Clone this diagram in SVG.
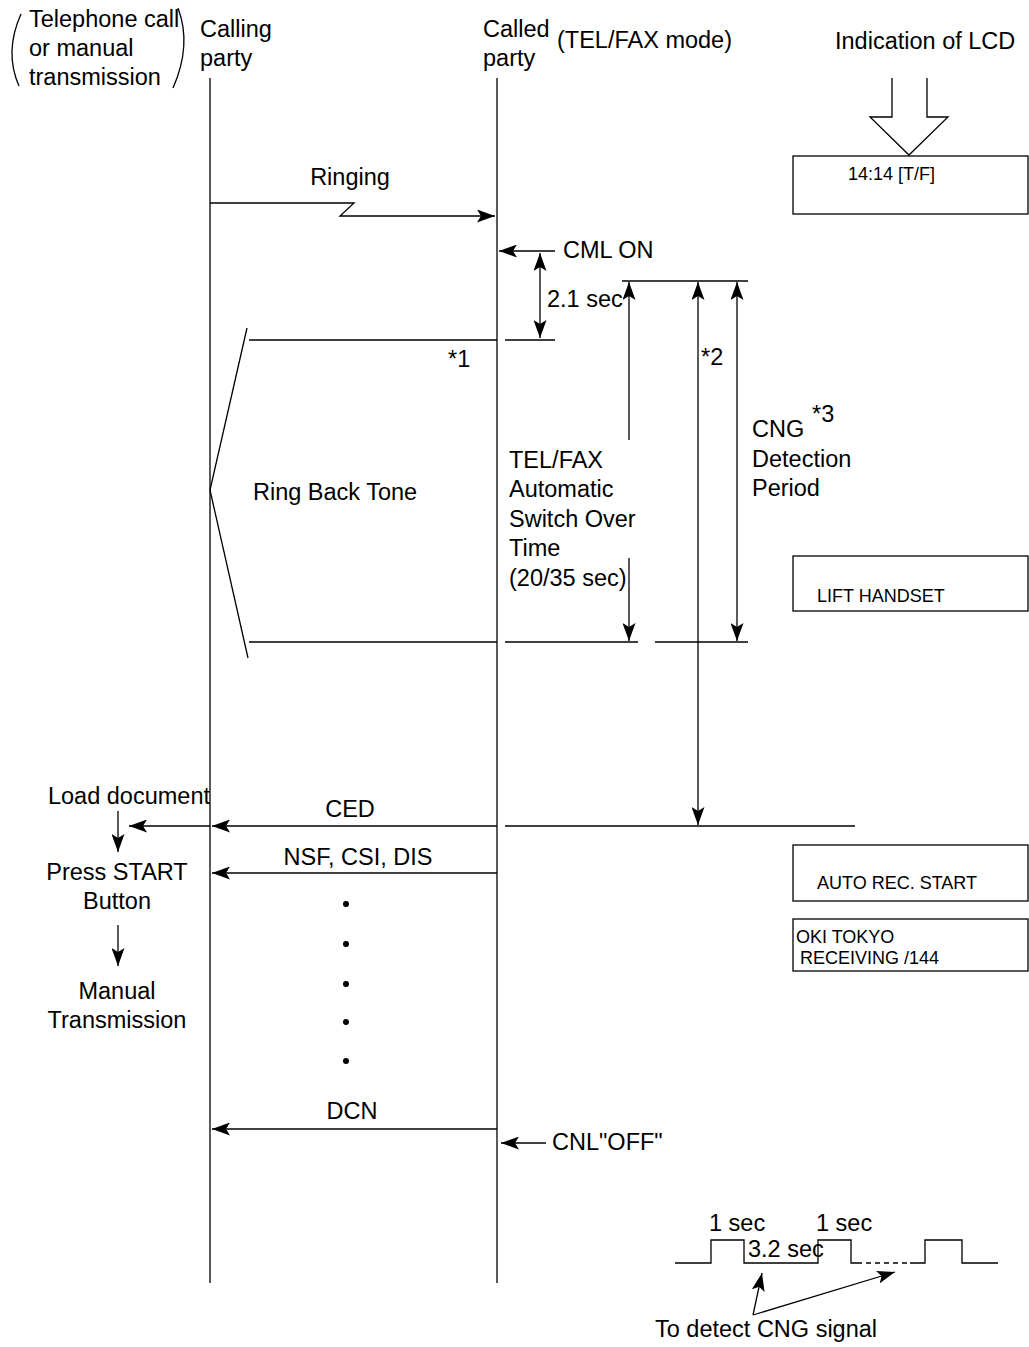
<svg xmlns="http://www.w3.org/2000/svg" width="1029" height="1347" viewBox="0 0 1029 1347">
<style>
  .ln{stroke:#000;stroke-width:1.3;fill:none}
  .t{font-family:"Liberation Sans",Arial,sans-serif;font-size:23.5px;fill:#000}
  .s{font-family:"Liberation Sans",Arial,sans-serif;font-size:18px;fill:#000}
  .c{text-anchor:middle}
  .box{fill:#fff;stroke:#000;stroke-width:1.3}
</style>
<defs>
  <marker id="ah" viewBox="0 0 18 13" refX="18" refY="6.5" markerWidth="18" markerHeight="13" markerUnits="userSpaceOnUse" orient="auto-start-reverse">
    <path d="M0,0 L18,6.5 L0,13 L4,6.5 z" fill="#000"/>
  </marker>
</defs>
<rect width="1029" height="1347" fill="#fff"/>

<g id="header">
  <path class="ln" d="M21,14 Q4,52 19,86"/>
  <path class="ln" d="M178,8 Q192,45 173,88"/>
  <text class="t" x="29" y="27">Telephone call</text>
  <text class="t" x="29" y="56">or manual</text>
  <text class="t" x="29" y="85">transmission</text>
  <text class="t" x="200" y="37">Calling</text>
  <text class="t" x="200" y="66">party</text>
  <text class="t" x="483" y="37">Called</text>
  <text class="t" x="483" y="66">party</text>
  <text class="t" x="557" y="48">(TEL/FAX mode)</text>
  <text class="t" x="835" y="49">Indication of LCD</text>
</g>

<g id="lifeline-calling"><line class="ln" x1="210" y1="78" x2="210" y2="1283"/></g>
<g id="lifeline-called"><line class="ln" x1="497" y1="78" x2="497" y2="1283"/></g>

<g id="lcd-arrow"><path class="ln" d="M892,78 L892,117 L870,117 L909,155 L948,117 L927,117 L927,78"/></g>
<g id="lcd-1"><rect class="box" x="793" y="156" width="235" height="58"/><text class="s" x="848" y="180">14:14 [T/F]</text></g>
<g id="lcd-2"><rect class="box" x="793" y="556" width="235" height="55"/><text class="s" x="817" y="602">LIFT HANDSET</text></g>
<g id="lcd-3"><rect class="box" x="793" y="845" width="235" height="56"/><text class="s" x="817" y="889">AUTO REC. START</text></g>
<g id="lcd-4"><rect class="box" x="793" y="919" width="235" height="52"/><text class="s" x="796" y="943">OKI TOKYO</text><text class="s" x="800" y="964">RECEIVING /144</text></g>

<g id="connectors">
  <path class="ln" d="M210,203 L354,203 L340,216 L495,216" marker-end="url(#ah)"/>
  <line class="ln" x1="555" y1="251" x2="499" y2="251" marker-end="url(#ah)"/>
  <line class="ln" x1="540" y1="253" x2="540" y2="338" marker-start="url(#ah)" marker-end="url(#ah)"/>
  <line class="ln" x1="505" y1="340" x2="555" y2="340"/>
  <line class="ln" x1="249" y1="340" x2="497" y2="340"/>
  <path class="ln" d="M247,328 L210,490 L248,658"/>
  <line class="ln" x1="249" y1="642" x2="497" y2="642"/>
  <line class="ln" x1="622" y1="281" x2="748" y2="281"/>
  <line class="ln" x1="505" y1="642" x2="638" y2="642"/>
  <line class="ln" x1="655" y1="642" x2="748" y2="642"/>
  <line class="ln" x1="629" y1="440" x2="629" y2="282" marker-end="url(#ah)"/>
  <line class="ln" x1="629" y1="558" x2="629" y2="641" marker-end="url(#ah)"/>
  <line class="ln" x1="698" y1="282" x2="698" y2="825" marker-start="url(#ah)" marker-end="url(#ah)"/>
  <line class="ln" x1="737" y1="282" x2="737" y2="641" marker-start="url(#ah)" marker-end="url(#ah)"/>
  <line class="ln" x1="497" y1="826" x2="212" y2="826" marker-end="url(#ah)"/>
  <line class="ln" x1="210" y1="826" x2="129" y2="826" marker-end="url(#ah)"/>
  <line class="ln" x1="505" y1="826" x2="855" y2="826"/>
  <line class="ln" x1="118" y1="811" x2="118" y2="852" marker-end="url(#ah)"/>
  <line class="ln" x1="497" y1="873" x2="212" y2="873" marker-end="url(#ah)"/>
  <line class="ln" x1="118" y1="925" x2="118" y2="966" marker-end="url(#ah)"/>
  <line class="ln" x1="497" y1="1129" x2="212" y2="1129" marker-end="url(#ah)"/>
  <line class="ln" x1="546" y1="1143" x2="501" y2="1143" marker-end="url(#ah)"/>
  <line class="ln" x1="753" y1="1315" x2="762" y2="1273" marker-end="url(#ah)"/>
  <line class="ln" x1="753" y1="1315" x2="895" y2="1272" marker-end="url(#ah)"/>
</g>

<g id="dots" fill="#000">
  <circle cx="346" cy="904" r="3"/>
  <circle cx="346" cy="944" r="3"/>
  <circle cx="346" cy="984" r="3"/>
  <circle cx="346" cy="1022" r="3"/>
  <circle cx="346" cy="1061" r="3"/>
</g>

<g id="labels">
  <text class="t c" x="350" y="185">Ringing</text>
  <text class="t" x="563" y="258">CML ON</text>
  <text class="t" x="547" y="307">2.1 sec</text>
  <text class="t" x="448" y="367">*1</text>
  <text class="t" x="701" y="365">*2</text>
  <text class="t" x="752" y="437">CNG</text>
  <text class="t" x="812" y="422">*3</text>
  <text class="t" x="752" y="467">Detection</text>
  <text class="t" x="752" y="496">Period</text>
  <text class="t" x="509" y="468">TEL/FAX</text>
  <text class="t" x="509" y="497">Automatic</text>
  <text class="t" x="509" y="527">Switch Over</text>
  <text class="t" x="509" y="556">Time</text>
  <text class="t" x="509" y="586">(20/35 sec)</text>
  <text class="t" x="253" y="500">Ring Back Tone</text>
  <text class="t c" x="350" y="817">CED</text>
  <text class="t c" x="358" y="865">NSF, CSI, DIS</text>
  <text class="t c" x="352" y="1119">DCN</text>
  <text class="t" x="552" y="1150">CNL"OFF"</text>
  <text class="t c" x="129" y="804">Load document</text>
  <text class="t c" x="117" y="880">Press START</text>
  <text class="t c" x="117" y="909">Button</text>
  <text class="t c" x="117" y="999">Manual</text>
  <text class="t c" x="117" y="1028">Transmission</text>
</g>

<g id="waveform">
  <path class="ln" d="M675,1263 L711,1263 L711,1240 L744,1240 L744,1263 L818,1263 L818,1240 L851,1240 L851,1263 L857,1263"/>
  <line class="ln" x1="857" y1="1263" x2="910" y2="1263" stroke-dasharray="5,4"/>
  <path class="ln" d="M910,1263 L925,1263 L925,1240 L962,1240 L962,1263 L998,1263"/>
  <text class="t" x="709" y="1231">1 sec</text>
  <text class="t" x="816" y="1231">1 sec</text>
  <text class="t" x="748" y="1257">3.2 sec</text>
  <text class="t" x="655" y="1337">To detect CNG signal</text>
</g>
</svg>
